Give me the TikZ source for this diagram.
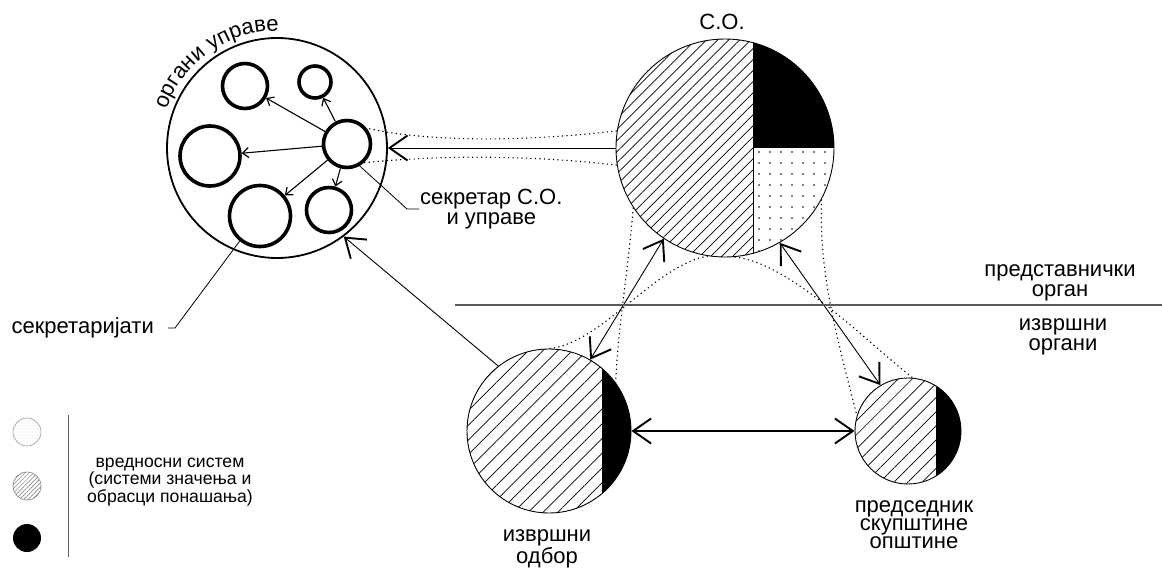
\documentclass[tikz,border=0pt]{standalone}
\usepackage{fontspec}
\setmainfont{Liberation Sans}
\usetikzlibrary{arrows.meta,patterns.meta,decorations.text,calc}
\tikzset{
  bigbarb/.tip={Straight Barb[length=18pt,width=25pt,line width=1.9pt]},
  smallbarb/.tip={Straight Barb[length=6pt,width=10pt,line width=1.2pt]},
}
\begin{document}
\begin{tikzpicture}[x=1pt,y=-1pt,
  lbl/.style={font=\fontsize{22}{19.5}\selectfont, align=center, inner sep=1pt},
  legendtext/.style={font=\fontsize{17.6}{17.5}\selectfont, align=center, inner sep=1pt},
  body/.style={circle, draw, line width=0.9pt, inner sep=0pt, minimum size=#1},
  unit/.style={circle, draw, line width=3.6pt, inner sep=0pt, minimum size=#1},
  link/.style={line width=0.9pt, -bigbarb},
  bilink/.style={line width=0.9pt, bigbarb-bigbarb},
  inner link/.style={line width=1.1pt, -smallbarb},
  tube/.style={line width=1.1pt, dash pattern=on 1.2pt off 3.3pt},
  leader/.style={line width=0.8pt},
  hatch/.style={pattern={Lines[angle=45,distance=#1,line width=0.7pt]}},
  dotfill/.style={pattern={Dots[radius=0.9pt,distance=11pt]}},
]
\useasboundingbox (0,0) rectangle (1162,570);

% --- representative body: hatched half, black and dotted quarters
\begin{scope}
  \clip (725,148) circle[radius=109pt];
  \fill[hatch=7.8pt] (610,30) rectangle (753,270);
  \fill (753,30) rectangle (840,148);
  \fill[dotfill] (753,148) rectangle (840,270);
  \draw[line width=0.9pt] (753,30) -- (753,270);
\end{scope}
\node[body=218pt] (so) at (725,148) {};

% --- executive board
\begin{scope}
  \clip (549,431) circle[radius=82pt];
  \fill[hatch=10.4pt] (460,340) rectangle (602,520);
  \fill (602,340) rectangle (640,520);
\end{scope}
\node[body=164pt] (odbor) at (549,431) {};

% --- president of the assembly
\begin{scope}
  \clip (908,431) circle[radius=53pt];
  \fill[hatch=10pt] (850,370) rectangle (936,490);
  \fill (936,370) rectangle (970,490);
\end{scope}
\node[body=106pt] (pred) at (908,431) {};

% --- administrative bodies
\node[circle, draw, line width=1.8pt, inner sep=0pt, minimum size=220pt] (org) at (277,148) {};
\node[unit=45pt] (i1) at (245,86) {};
\node[unit=32pt] (i2) at (315,82) {};
\node[unit=60pt] (i3) at (210,156) {};
\node[unit=47pt] (sec) at (347,144) {};
\node[unit=61pt] (i5) at (260,216) {};
\node[unit=45pt] (i6) at (329,210) {};
\foreach \t in {i1,i2,i3,i5,i6} \draw[inner link] (sec) -- (\t);

\path[decorate, decoration={text along path,
    text={|\fontsize{22}{22}\selectfont|органи управе}, text align=center}]
  ($(org.center)+(172:117pt)$) arc[start angle=172, end angle=78, radius=117pt];

% --- dotted tubes between bodies
\draw[tube] (so.171) .. controls +(-94,11) and +(61,14) .. (sec.39);
\draw[tube] (so.-171) .. controls +(-94,-11) and +(66,-7) .. (sec.-48);
\draw[tube] (so.-147) .. controls +(-5,63) and +(2,-53) .. (odbor.36);
\draw[tube] (so.-99) .. controls +(-52,8) and +(51,-4) .. (odbor.90);
\draw[tube] (so.-28) .. controls +(-3,70) and +(-22,-85) .. (pred.163);
\draw[tube] (so.-85) .. controls +(55,5) and +(-43,-33) .. (pred.85);

% --- relations
\draw[link] (so) -- (org);
\draw[bilink] (odbor.60) -- (so.-124);
\draw[bilink] (pred.121) -- (so.-60);
\draw[link] (odbor.128) -- (org.-53);
\draw[bilink, line width=1.8pt] (odbor) -- (pred);

% --- representative / executive divide
\draw[line width=1.3pt, black!65] (455,305) -- (1162,305);

% --- labels
\node[lbl] (solab) at (722,22) {С.О.};
\node[lbl, anchor=west] (seclab) at (419,209) {секретар С.О.\\и управе};
\coordinate (secbend) at (407,209);
\draw[leader] (sec.-60) -- (secbend) -- (seclab.west);
\node[lbl, anchor=east, inner xsep=14pt] (sectlab) at (168,328) {секретаријати};
\coordinate (sectbend) at (175,328);
\draw[leader] (sectlab.east) -- (sectbend) -- (i5.-129);
\node[lbl] (reprlab) at (1060,283) {представнички\\орган};
\node[lbl] (execlab) at (1063,337) {извршни\\органи};
\node[lbl] (odborlab) at (547,549) {извршни\\одбор};
\node[lbl, font=\fontsize{22}{18}\selectfont] (predlab) at (914,525) {председник\\скупштине\\општине};

% --- legend
\node[circle, draw=black!40, line width=0.6pt, inner sep=0pt, minimum size=28pt,
      pattern={Dots[radius=0.45pt,distance=3pt]}, pattern color=black!35] (l1) at (27,432) {};
\node[circle, draw=black!50, line width=0.6pt, inner sep=0pt, minimum size=28pt,
      pattern={Lines[angle=45,distance=3pt,line width=0.5pt]}, pattern color=black!55] (l2) at (27,486) {};
\node[circle, fill=black, inner sep=0pt, minimum size=28pt] (l3) at (27,538) {};
\draw[line width=1pt, black!60] (68,415) -- (68,557);
\node[legendtext] (legtxt) at (170,482) {вредносни систем\\(системи значења и\\обрасци понашања)};
\end{tikzpicture}
\end{document}
